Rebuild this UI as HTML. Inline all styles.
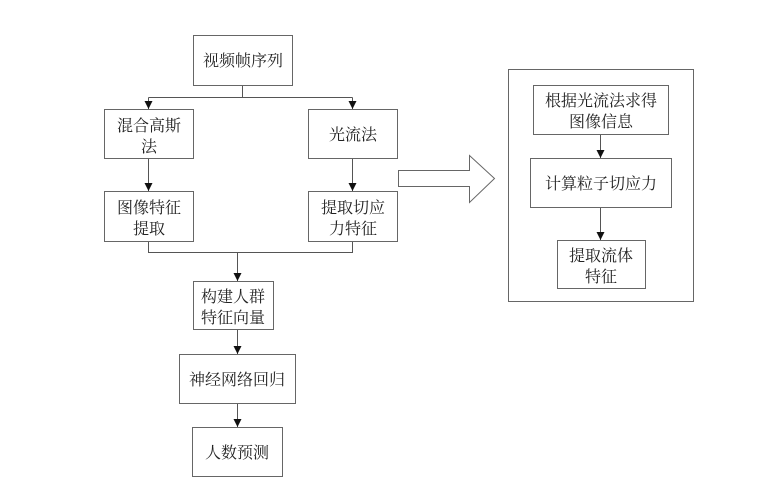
<!DOCTYPE html>
<html><head><meta charset="utf-8"><style>
body{margin:0;background:#fff;}
svg text{font-family:"Noto Serif CJK SC","Liberation Serif",serif;font-size:16px;fill:#222;text-anchor:middle;}
</style></head><body>
<svg width="779" height="488" xmlns="http://www.w3.org/2000/svg">
<defs><marker id="a" markerWidth="8" markerHeight="8" refX="8" refY="4" orient="auto" markerUnits="userSpaceOnUse"><path d="M0,0 L8,4 L0,8 z" fill="#111"/></marker></defs>
<g fill="#fff" stroke="#666" stroke-width="1">
<rect x="193.5" y="35.5" width="99" height="50"/>
<rect x="104.5" y="109.5" width="89" height="49"/>
<rect x="308.5" y="109.5" width="89" height="49"/>
<rect x="104.5" y="191.5" width="89" height="50"/>
<rect x="308.5" y="191.5" width="89" height="50"/>
<rect x="193.5" y="281.5" width="80" height="48"/>
<rect x="179.5" y="354.5" width="116" height="49"/>
<rect x="192.5" y="427.5" width="90" height="49"/>
<rect x="508.5" y="69.5" width="185" height="232"/>
<rect x="533.5" y="85.5" width="135" height="49"/>
<rect x="530.5" y="158.5" width="141" height="49"/>
<rect x="557.5" y="240.5" width="88" height="48"/>
<path d="M398.5,170.5 H469.5 V155.5 L494.5,178.5 L469.5,202.5 V186.5 H398.5 Z"/>
</g>
<g stroke="#555" fill="none" stroke-width="1">
<path d="M242.5,86 V97.5 M148.5,97.5 H352.5"/>
<path d="M148.5,97.5 V109" marker-end="url(#a)"/>
<path d="M352.5,97.5 V109" marker-end="url(#a)"/>
<path d="M148.5,159 V191" marker-end="url(#a)"/>
<path d="M352.5,159 V191" marker-end="url(#a)"/>
<path d="M148.5,242 V252.5 H352.5 V242"/>
<path d="M237.5,252.5 V281" marker-end="url(#a)"/>
<path d="M237.5,330 V354" marker-end="url(#a)"/>
<path d="M237.5,404 V427" marker-end="url(#a)"/>
<path d="M600.5,135 V158" marker-end="url(#a)"/>
<path d="M600.5,208 V240" marker-end="url(#a)"/>
</g>
<text x="243" y="66">视频帧序列</text>
<text x="149" y="131">混合高斯</text><text x="149" y="152">法</text>
<text x="353" y="140">光流法</text>
<text x="149" y="213">图像特征</text><text x="149" y="234">提取</text>
<text x="353" y="213">提取切应</text><text x="353" y="234">力特征</text>
<text x="233" y="302">构建人群</text><text x="233" y="323">特征向量</text>
<text x="237" y="385">神经网络回归</text>
<text x="237" y="458">人数预测</text>
<text x="601" y="106">根据光流法求得</text><text x="601" y="127">图像信息</text>
<text x="601" y="189">计算粒子切应力</text>
<text x="601" y="261">提取流体</text><text x="601" y="282">特征</text>
</svg>
</body></html>
